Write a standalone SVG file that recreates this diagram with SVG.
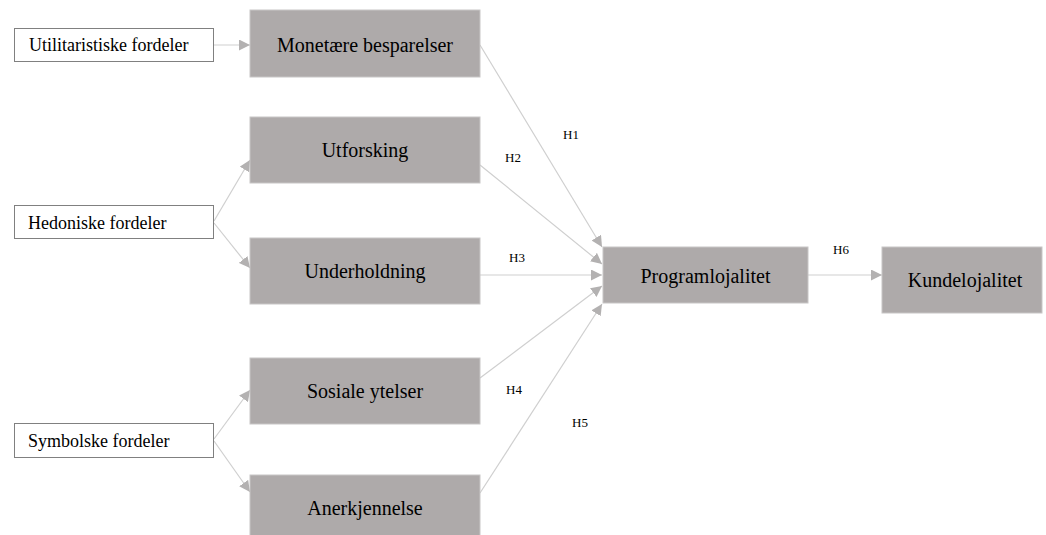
<svg xmlns="http://www.w3.org/2000/svg" width="1046" height="535" viewBox="0 0 1046 535">
<style>
.wb{fill:#ffffff;stroke:#808080;stroke-width:1}
.gb{fill:#aeaaaa;stroke:#c8c6c6;stroke-width:1}
.wt{font-family:"Liberation Serif","Times New Roman",serif;font-size:18px;fill:#000}
.gt{font-family:"Liberation Serif","Times New Roman",serif;font-size:20px;fill:#000;text-anchor:middle}
.ht{font-family:"Liberation Serif","Times New Roman",serif;font-size:13px;fill:#000}
.c{fill:none;stroke:#cfcfcf;stroke-width:1.2}
</style>
<defs>
<marker id="ah" markerUnits="userSpaceOnUse" markerWidth="11" markerHeight="11" viewBox="0 0 11 11" refX="11" refY="5.5" orient="auto">
<path d="M0,0 L11,5.5 L0,11 Z" fill="#b3b1b1"/>
</marker>
</defs>
<g id="connectors">
<line class="c" x1="214" y1="45" x2="250" y2="45" marker-end="url(#ah)"/>
<line class="c" x1="214" y1="221" x2="250" y2="160" marker-end="url(#ah)"/>
<line class="c" x1="214" y1="223" x2="250" y2="268" marker-end="url(#ah)"/>
<line class="c" x1="214" y1="439" x2="250" y2="390" marker-end="url(#ah)"/>
<line class="c" x1="214" y1="441" x2="250" y2="492" marker-end="url(#ah)"/>
<line class="c" x1="480" y1="45" x2="602" y2="247" marker-end="url(#ah)"/>
<line class="c" x1="480" y1="165" x2="602" y2="264" marker-end="url(#ah)"/>
<line class="c" x1="480" y1="275" x2="602" y2="275" marker-end="url(#ah)"/>
<line class="c" x1="480" y1="378" x2="602" y2="286" marker-end="url(#ah)"/>
<line class="c" x1="480" y1="493" x2="602" y2="304" marker-end="url(#ah)"/>
<line class="c" x1="808" y1="275" x2="882" y2="275" marker-end="url(#ah)"/>
<text class="ht" x="563" y="139">H1</text>
<text class="ht" x="505" y="162">H2</text>
<text class="ht" x="509" y="262">H3</text>
<text class="ht" x="506" y="394">H4</text>
<text class="ht" x="572" y="427">H5</text>
<text class="ht" x="833" y="254">H6</text>
</g>
<g id="utilitaristiske"><rect class="wb" x="14.5" y="28.5" width="199" height="33"/><text class="wt" x="29" y="51">Utilitaristiske fordeler</text></g>
<g id="hedoniske"><rect class="wb" x="14.5" y="205.5" width="199" height="33"/><text class="wt" x="28" y="229">Hedoniske fordeler</text></g>
<g id="symbolske"><rect class="wb" x="14.5" y="423.5" width="199" height="34"/><text class="wt" x="28" y="447">Symbolske fordeler</text></g>
<g id="monetaere"><rect class="gb" x="250" y="10" width="230" height="67"/><text class="gt" x="365" y="52">Monetære besparelser</text></g>
<g id="utforsking"><rect class="gb" x="250" y="117" width="230" height="66"/><text class="gt" x="365" y="157">Utforsking</text></g>
<g id="underholdning"><rect class="gb" x="250" y="238" width="230" height="66"/><text class="gt" x="365" y="278">Underholdning</text></g>
<g id="sosiale"><rect class="gb" x="250" y="358" width="230" height="66"/><text class="gt" x="365" y="398">Sosiale ytelser</text></g>
<g id="anerkjennelse"><rect class="gb" x="250" y="475" width="230" height="66"/><text class="gt" x="365" y="515">Anerkjennelse</text></g>
<g id="programlojalitet"><rect class="gb" x="603" y="247" width="205" height="56"/><text class="gt" x="705.5" y="283">Programlojalitet</text></g>
<g id="kundelojalitet"><rect class="gb" x="882" y="247" width="160" height="66"/><text class="gt" x="965" y="287">Kundelojalitet</text></g>
</svg>
